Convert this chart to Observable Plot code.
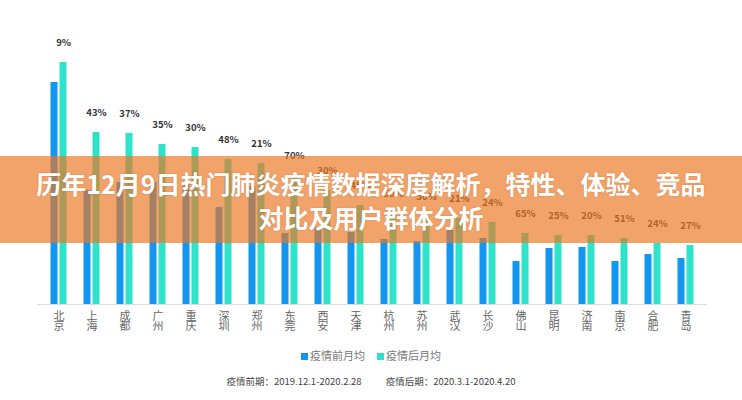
<!DOCTYPE html>
<html>
<head>
<meta charset="utf-8">
<script src="https://cdn.jsdelivr.net/npm/d3@7"></script>
<script src="https://cdn.jsdelivr.net/npm/@observablehq/plot@0.6"></script>
<style>
  html, body { margin: 0; padding: 0; background: #fff; }
  body { font-family: "Noto Sans CJK SC", "Noto Sans", sans-serif; }
  #wrap { position: relative; width: 742px; height: 400px; overflow: hidden; }
  #banner {
    position: absolute; left: 0; top: 156px; width: 742px; height: 87px;
    background: rgba(234, 119, 36, 0.68);
    color: #fff; font-weight: 700; font-size: 25px; line-height: 34px;
    text-align: center; box-sizing: border-box; padding-top: 10px;
    text-shadow: 0 0 2px rgba(120, 50, 0, 0.25);
  }
  #legend {
    position: absolute; left: 0; top: 347px; width: 742px; text-align: center;
    font-size: 11px; color: #777; line-height: 16px;
  }
  #legend span.sw { display: inline-block; width: 7px; height: 7px; margin-right: 2px; vertical-align: 0px; }
  #legend span.item { margin: 0 6px; }
  #caption {
    position: absolute; left: 0; top: 373px; width: 742px; text-align: center;
    font-size: 9.5px; color: #444; line-height: 16px;
  }
  #caption span { margin: 0 12px; }
</style>
</head>
<body>
<div id="wrap">
  <div id="chart"></div>
  <div id="legend"></div>
  <div id="caption"></div>
  <div id="banner"></div>
</div>
<script>
const cities = ["北京","上海","成都","广州","重庆","深圳","郑州","东莞","西安","天津","杭州","苏州","武汉","长沙","佛山","昆明","济南","南京","合肥","青岛"];
const before = [222,114,122,122,122,97,118,71,77,72,65,63,74,66,43,56,57,43,50,46];
const after = [242,172,171,160,157,145,141,129,114,99,91,88,86,82,71,69,69,66,61,59];
const pctLabels = ["9%","43%","37%","35%","30%","48%","21%","70%","30%","45%","50%","50%","21%","24%","65%","25%","20%","51%","24%","27%"];
const seriesNames = ["疫情前月均","疫情后月均"];
const seriesColors = ["#1296f0","#2ee3cb"];
const titleLines = ["历年12月9日热门肺炎疫情数据深度解析，特性、体验、竞品","对比及用户群体分析"];
const captionParts = ["疫情前期：2019.12.1-2020.2.28","疫情后期：2020.3.1-2020.4.20"];

const rowsBefore = cities.map((c, i) => ({city: c, value: before[i]}));
const rowsAfter = cities.map((c, i) => ({city: c, value: after[i], label: pctLabels[i]}));

const chart = Plot.plot({
  width: 742,
  height: 340,
  marginTop: 44,
  marginBottom: 36,
  marginLeft: 37,
  marginRight: 35,
  style: {fontFamily: "'Noto Sans CJK SC', sans-serif", background: "transparent"},
  x: {domain: cities, paddingInner: 0.79, paddingOuter: 0.395, label: null},
  y: {domain: [0, 260], axis: null},
  marks: [
    Plot.ruleY([0], {stroke: "#dcdcdc", strokeWidth: 1}),
    Plot.barY(rowsBefore, {x: "city", y: "value", fill: seriesColors[0], dx: -4.5}),
    Plot.barY(rowsAfter, {x: "city", y: "value", fill: seriesColors[1], dx: 4.5}),
    Plot.text(rowsAfter, {x: "city", y: "value", text: "label", dx: 4.5, dy: -20, fill: "#333", fontWeight: "bold", fontSize: 9.5}),
    Plot.axisX({tickSize: 0, tickPadding: 8, fontSize: 11, color: "#666", lineHeight: 0.95,
      tickFormat: d => d.split("").join("\n"), label: null})
  ]
});
document.getElementById("chart").appendChild(chart);

document.getElementById("legend").innerHTML = seriesNames.map((n, i) =>
  `<span class="item"><span class="sw" style="background:${seriesColors[i]}"></span>${n}</span>`).join("");
document.getElementById("caption").innerHTML = captionParts.map(p => `<span>${p}</span>`).join("");
document.getElementById("banner").innerHTML = titleLines.join("<br>");
</script>
</body>
</html>
